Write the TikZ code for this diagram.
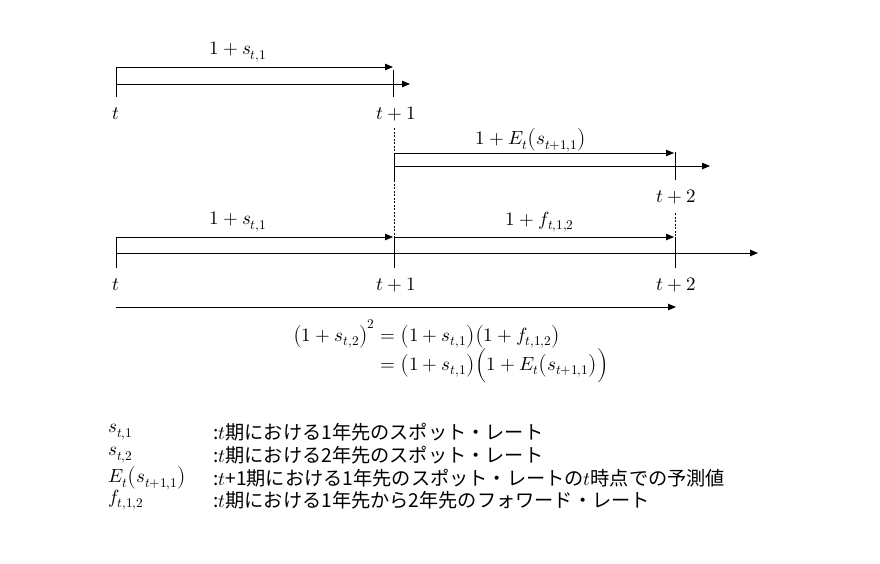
\documentclass[tikz,border=0pt]{standalone}
\usepackage{amsmath}
\usepackage{fontspec}
\usepackage{unicode-math}
\setmathfont{Latin Modern Math}
\newfontfamily\jp{Noto Sans CJK JP}
\usetikzlibrary{arrows.meta}
\newcommand{\pr}[1]{{\left(#1\right)}}
\begin{document}
\begin{tikzpicture}[x=1pt,y=-1pt,
  font=\fontsize{19}{23}\selectfont,
  axis/.style={line width=0.8pt,-{Triangle[length=8pt,width=6.5pt]}},
  tick/.style={line width=0.8pt},
  guide/.style={line width=0.6pt,dash pattern=on 2pt off 1.5pt},
  lbl/.style={inner sep=0pt},
  jptext/.style={inner sep=0pt,anchor=west,font=\fontsize{19.2}{23}\selectfont\jp}]
\useasboundingbox (0,0) rectangle (880,563);
% ---------- top timeline ----------
\coordinate (a0) at (116,84); \coordinate (aE) at (410,84);
\coordinate (a0t) at (116,68); \coordinate (a0b) at (116,97);
\coordinate (a1t) at (393,70); \coordinate (a1b) at (393,97);
\coordinate (s0) at (116,67); \coordinate (s1) at (393,67);
\draw[axis] (a0) -- (aE);
\draw[tick] (a0t) -- (a0b);
\draw[tick] (a1t) -- (a1b);
\draw[axis] (s0) -- (s1);
\node[lbl] (l1) at (238,52) {$1+s_{t,1}$};
\node[lbl] (ta) at (116,114) {$t$};
\node[lbl] (tb) at (396,114) {$t+1$};
% ---------- middle timeline ----------
\coordinate (b0) at (394,166); \coordinate (bE) at (710,166);
\coordinate (b0t) at (394,153); \coordinate (b0b) at (394,180);
\coordinate (b1t) at (675,152); \coordinate (b1b) at (675,180);
\coordinate (m0) at (394,153); \coordinate (m1) at (674,153);
\draw[axis] (b0) -- (bE);
\draw[tick] (b0t) -- (b0b);
\draw[tick] (b1t) -- (b1b);
\draw[axis] (m0) -- (m1);
\node[lbl] (l2) at (531,140) {$1+E_t\pr{s_{t+1,1}}$};
\node[lbl] (tc) at (676,197) {$t+2$};
% ---------- guides ----------
\coordinate (g1) at (394,128); \coordinate (g2) at (394,237);
\coordinate (g3) at (675,213); \coordinate (g4) at (675,237);
\draw[guide] (g1) -- (b0t);
\draw[guide] (b0b) -- (g2);
\draw[guide] (g3) -- (g4);
% ---------- bottom timeline ----------
\coordinate (c0) at (116,253); \coordinate (cE) at (758,253);
\coordinate (c0t) at (116,238); \coordinate (c0b) at (116,268);
\coordinate (c1t) at (394,237); \coordinate (c1b) at (394,268);
\coordinate (c2t) at (675,237); \coordinate (c2b) at (675,268);
\coordinate (n0) at (116,237); \coordinate (n1) at (393,237);
\coordinate (n2) at (394,237); \coordinate (n3) at (674,237);
\coordinate (p0) at (116,307); \coordinate (p1) at (676,307);
\draw[axis] (c0) -- (cE);
\draw[tick] (c0t) -- (c0b);
\draw[tick] (c1t) -- (c1b);
\draw[tick] (c2t) -- (c2b);
\draw[axis] (n0) -- (n1);
\draw[axis] (n2) -- (n3);
\draw[axis] (p0) -- (p1);
\node[lbl] (l3) at (238,222) {$1+s_{t,1}$};
\node[lbl] (l4) at (540,222) {$1+f_{t,1,2}$};
\node[lbl] (td) at (116,285) {$t$};
\node[lbl] (te) at (396,285) {$t+1$};
\node[lbl] (tf) at (676,285) {$t+2$};
% ---------- equation ----------
\node[lbl] (eq) at (451,351) {$\begin{aligned}
  \pr{1+s_{t,2}}^2 &= \pr{1+s_{t,1}}\pr{1+f_{t,1,2}}\\[-4pt]
  &= \pr{1+s_{t,1}}{\Bigl(1+E_t\pr{s_{t+1,1}}\Bigr)}
\end{aligned}$};
% ---------- legend ----------
\node[lbl,anchor=west] (k1) at (108,432) {$s_{t,1}$};
\node[lbl,anchor=west] (k2) at (108,455) {$s_{t,2}$};
\node[lbl,anchor=west] (k3) at (108,478) {$E_t\pr{s_{t+1,1}}$};
\node[lbl,anchor=west] (k4) at (108,500) {$f_{t,1,2}$};
\node[jptext] (d1) at (213,432) {:$t$期における1年先のスポット・レート};
\node[jptext] (d2) at (213,455) {:$t$期における2年先のスポット・レート};
\node[jptext] (d3) at (213,478) {:$t$+1期における1年先のスポット・レートの$t$時点での予測値};
\node[jptext] (d4) at (213,500) {:$t$期における1年先から2年先のフォワード・レート};
\end{tikzpicture}
\end{document}
